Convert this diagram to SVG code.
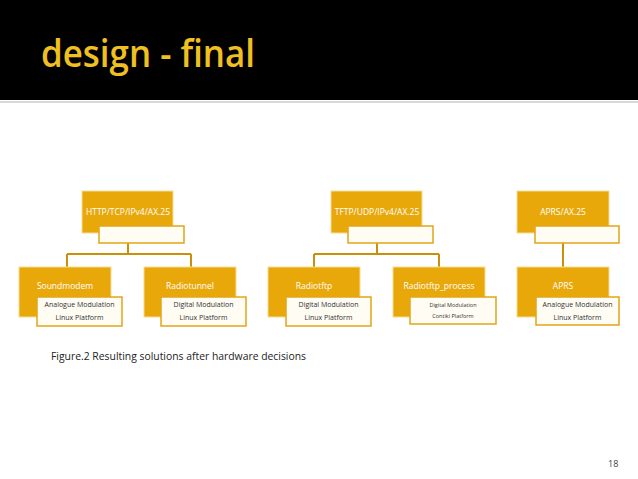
<svg xmlns="http://www.w3.org/2000/svg" width="638" height="479" viewBox="0 0 638 479">
<style>
.box{fill:#e9a80a;stroke:#f6dc94;stroke-width:1}
.inner{fill:#fffcf4;stroke:#e2a518;stroke-width:1.5}
.conn{fill:none;stroke:#c9900a;stroke-width:2}
.t{font-family:"Open Sans","Liberation Sans",sans-serif;fill:#ffffff;font-size:8.5px;text-anchor:middle}
.s{font-family:"Open Sans","Liberation Sans",sans-serif;fill:#333333;font-size:7px;text-anchor:middle}
.ss{font-family:"Open Sans","Liberation Sans",sans-serif;fill:#333333;font-size:5.5px;text-anchor:middle}
</style>
<rect x="0" y="0" width="638" height="479" fill="#ffffff"/>
<rect x="0" y="0" width="638" height="100" fill="#000000"/>
<rect x="0" y="101" width="638" height="2" fill="#d8d8d8"/>
<text x="41" y="67" font-family="Open Sans, Liberation Sans, sans-serif" font-size="37" font-weight="600" fill="#f0c020" textLength="214" lengthAdjust="spacingAndGlyphs">design - final</text>

<g id="connectors">
<path class="conn" d="M128 243 V254 M67 254 H191 M67 254 V267 M191 254 V267"/>
<path class="conn" d="M377 243 V254 M314 254 H439 M314 254 V267 M439 254 V267"/>
<path class="conn" d="M563 243 V267"/>
</g>

<g id="n_http">
<rect class="box" x="82" y="191" width="91" height="42"/>
<text class="t" x="128" y="215">HTTP/TCP/IPv4/AX.25</text>
<rect class="inner" x="99" y="226" width="85" height="17"/>
</g>
<g id="n_tftp">
<rect class="box" x="331" y="191" width="91" height="42"/>
<text class="t" x="377" y="215">TFTP/UDP/IPv4/AX.25</text>
<rect class="inner" x="348" y="226" width="85" height="17"/>
</g>
<g id="n_aprsax">
<rect class="box" x="517" y="191" width="92" height="42"/>
<text class="t" x="563" y="215">APRS/AX.25</text>
<rect class="inner" x="535" y="226" width="84" height="17"/>
</g>

<g id="n_soundmodem">
<rect class="box" x="19" y="267" width="92" height="50"/>
<text class="t" x="65" y="289">Soundmodem</text>
<rect class="inner" x="37" y="297" width="85" height="29"/>
<text class="s" x="79.5" y="307">Analogue Modulation</text>
<text class="s" x="79.5" y="320">Linux Platform</text>
</g>
<g id="n_radiotunnel">
<rect class="box" x="144" y="267" width="92" height="50"/>
<text class="t" x="190" y="289">Radiotunnel</text>
<rect class="inner" x="161" y="297" width="85" height="29"/>
<text class="s" x="203.5" y="307">Digital Modulation</text>
<text class="s" x="203.5" y="320">Linux Platform</text>
</g>
<g id="n_radiotftp">
<rect class="box" x="268" y="267" width="92" height="50"/>
<text class="t" x="314" y="289">Radiotftp</text>
<rect class="inner" x="286" y="297" width="85" height="29"/>
<text class="s" x="328.5" y="307">Digital Modulation</text>
<text class="s" x="328.5" y="320">Linux Platform</text>
</g>
<g id="n_radiotftp_process">
<rect class="box" x="393" y="267" width="92" height="50"/>
<text class="t" x="439" y="289">Radiotftp_process</text>
<rect class="inner" x="410" y="297" width="86" height="27"/>
<text class="ss" x="453" y="307">Digital Modulation</text>
<text class="ss" x="453" y="318">Contiki Platform</text>
</g>
<g id="n_aprs">
<rect class="box" x="517" y="267" width="92" height="50"/>
<text class="t" x="563" y="289">APRS</text>
<rect class="inner" x="536" y="297" width="83" height="28"/>
<text class="s" x="577.5" y="307">Analogue Modulation</text>
<text class="s" x="577.5" y="320">Linux Platform</text>
</g>

<text x="51" y="360" font-family="Open Sans, Liberation Sans, sans-serif" font-size="10.5" fill="#222222" textLength="255" lengthAdjust="spacingAndGlyphs">Figure.2 Resulting solutions after hardware decisions</text>
<text x="608" y="467" font-family="Open Sans, Liberation Sans, sans-serif" font-size="9" fill="#444444">18</text>
</svg>
